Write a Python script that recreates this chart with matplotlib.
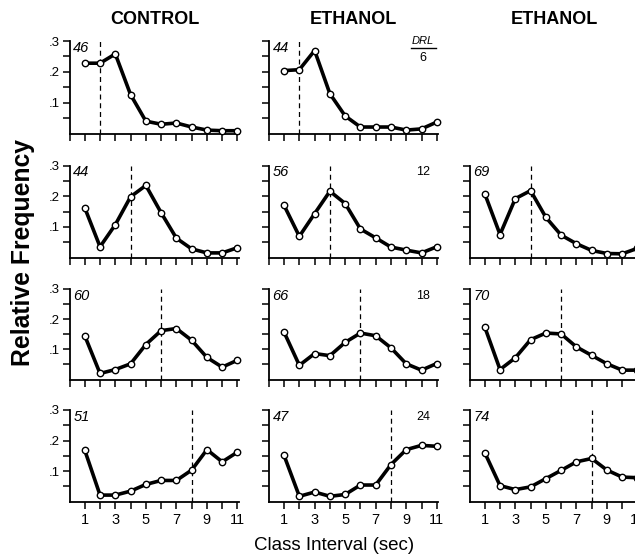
import matplotlib
matplotlib.use("Agg")
import matplotlib.pyplot as plt
from matplotlib.ticker import MultipleLocator, FixedLocator

plt.rcParams['font.family'] = ['Liberation Sans', 'DejaVu Sans']

x = list(range(1, 12))
col_titles = ["CONTROL", "ETHANOL", "ETHANOL"]
drl_values = [6, 12, 18, 24]
dashed_x = [2, 4, 6, 8]

# rows: DRL 6, 12, 18, 24 ; columns: control, ethanol, ethanol (third missing in row 1)
ctrl_6 = [0.228, 0.228, 0.258, 0.126, 0.040, 0.030, 0.034, 0.021, 0.011, 0.009, 0.009]
eth_6 = [0.204, 0.207, 0.269, 0.129, 0.057, 0.021, 0.021, 0.021, 0.011, 0.015, 0.037]
ctrl_12 = [0.162, 0.035, 0.107, 0.198, 0.235, 0.146, 0.063, 0.028, 0.015, 0.015, 0.032]
eth_12 = [0.170, 0.069, 0.143, 0.216, 0.176, 0.093, 0.064, 0.034, 0.024, 0.015, 0.035]
eth2_12 = [0.208, 0.075, 0.192, 0.218, 0.131, 0.073, 0.045, 0.023, 0.013, 0.012, 0.030]
ctrl_18 = [0.145, 0.020, 0.033, 0.052, 0.116, 0.162, 0.169, 0.130, 0.073, 0.041, 0.064]
eth_18 = [0.157, 0.047, 0.086, 0.079, 0.123, 0.154, 0.145, 0.105, 0.052, 0.031, 0.053]
eth2_18 = [0.174, 0.033, 0.072, 0.132, 0.154, 0.151, 0.108, 0.080, 0.052, 0.031, 0.031]
ctrl_24 = [0.168, 0.021, 0.021, 0.034, 0.056, 0.069, 0.069, 0.103, 0.170, 0.130, 0.162]
eth_24 = [0.151, 0.017, 0.031, 0.017, 0.023, 0.054, 0.054, 0.121, 0.170, 0.184, 0.181]
eth2_24 = [0.160, 0.052, 0.039, 0.048, 0.075, 0.102, 0.130, 0.141, 0.103, 0.080, 0.078]

series = [
    [ctrl_6, eth_6, None],
    [ctrl_12, eth_12, eth2_12],
    [ctrl_18, eth_18, eth2_18],
    [ctrl_24, eth_24, eth2_24],
]
n_labels = [
    ["46", "44", None],
    ["44", "56", "69"],
    ["60", "66", "70"],
    ["51", "47", "74"],
]

W, H = 635, 557
fig = plt.figure(figsize=(W / 100, H / 100), dpi=100)

col_left = [69.5, 268.8, 469.5]
col_width = 169.5
row_tb = [(41, 133.5), (165.5, 257.5), (289, 379.5), (410, 501.5)]

for r in range(4):
    top, bot = row_tb[r]
    for c in range(3):
        data = series[r][c]
        if data is None:
            continue
        ax = fig.add_axes([col_left[c] / W, 1 - bot / H, col_width / W, (bot - top) / H])
        ax.set_xlim(0, 11.1)
        ax.set_ylim(0, 0.3)
        for s in ['top', 'right']:
            ax.spines[s].set_visible(False)
        for s in ['left', 'bottom']:
            ax.spines[s].set_linewidth(1.3)
        ax.axvline(dashed_x[r], color='black', lw=0.9, ls=(0, (4, 3)))
        ax.plot(x, data, color='black', lw=2.6, marker='o', ms=4.6,
                mfc='white', mec='black', mew=1.0, clip_on=False, zorder=3)
        ax.xaxis.set_major_locator(MultipleLocator(1))
        ax.yaxis.set_major_locator(FixedLocator([0.1, 0.2, 0.3]))
        ax.yaxis.set_minor_locator(FixedLocator([0.05, 0.15, 0.25]))
        ax.tick_params(axis='both', which='both', direction='out', width=1.1,
                       length=5, labelsize=9)
        if r == 3:
            ax.set_xticks(x)
            ax.set_xticklabels([str(v) if v % 2 == 1 else "" for v in x], fontsize=10.5)
            ax.tick_params(axis='x', pad=3)
        else:
            ax.set_xticklabels([])
        if c == 0:
            ax.set_yticklabels([".1", ".2", ".3"], fontsize=9.5)
            ax.tick_params(axis='y', pad=2)
        else:
            ax.set_yticklabels([])
        ax.text(0.022, 1.0, n_labels[r][c], transform=ax.transAxes, ha='left', va='top',
                fontsize=10.5, style='italic')
        if c == 1:
            if r == 0:
                ax.text(10.1, 0.300, "DRL", ha='center', va='center', fontsize=8,
                        fontstretch='condensed', style='italic')
                ax.plot([9.3, 10.95], [0.277, 0.277], color='black', lw=1.0, clip_on=False)
                ax.text(10.1, 0.245, str(drl_values[r]), ha='center', va='center', fontsize=9)
            else:
                ax.text(10.1, 0.298, str(drl_values[r]), ha='center', va='top', fontsize=9)

for c in range(3):
    fig.text((col_left[c] + 85) / W, 1 - 20 / H, col_titles[c], ha='center', va='center',
             fontsize=13, fontweight='bold')

fig.text(23 / W, 1 - 252 / H, "Relative Frequency", rotation=90, ha='center', va='center',
         fontsize=17.8, fontweight='bold')
fig.text(334 / W, 1 - 546 / H, "Class Interval (sec)", ha='center', va='center',
         fontsize=13.5)

fig.savefig("out.png", dpi=100)
